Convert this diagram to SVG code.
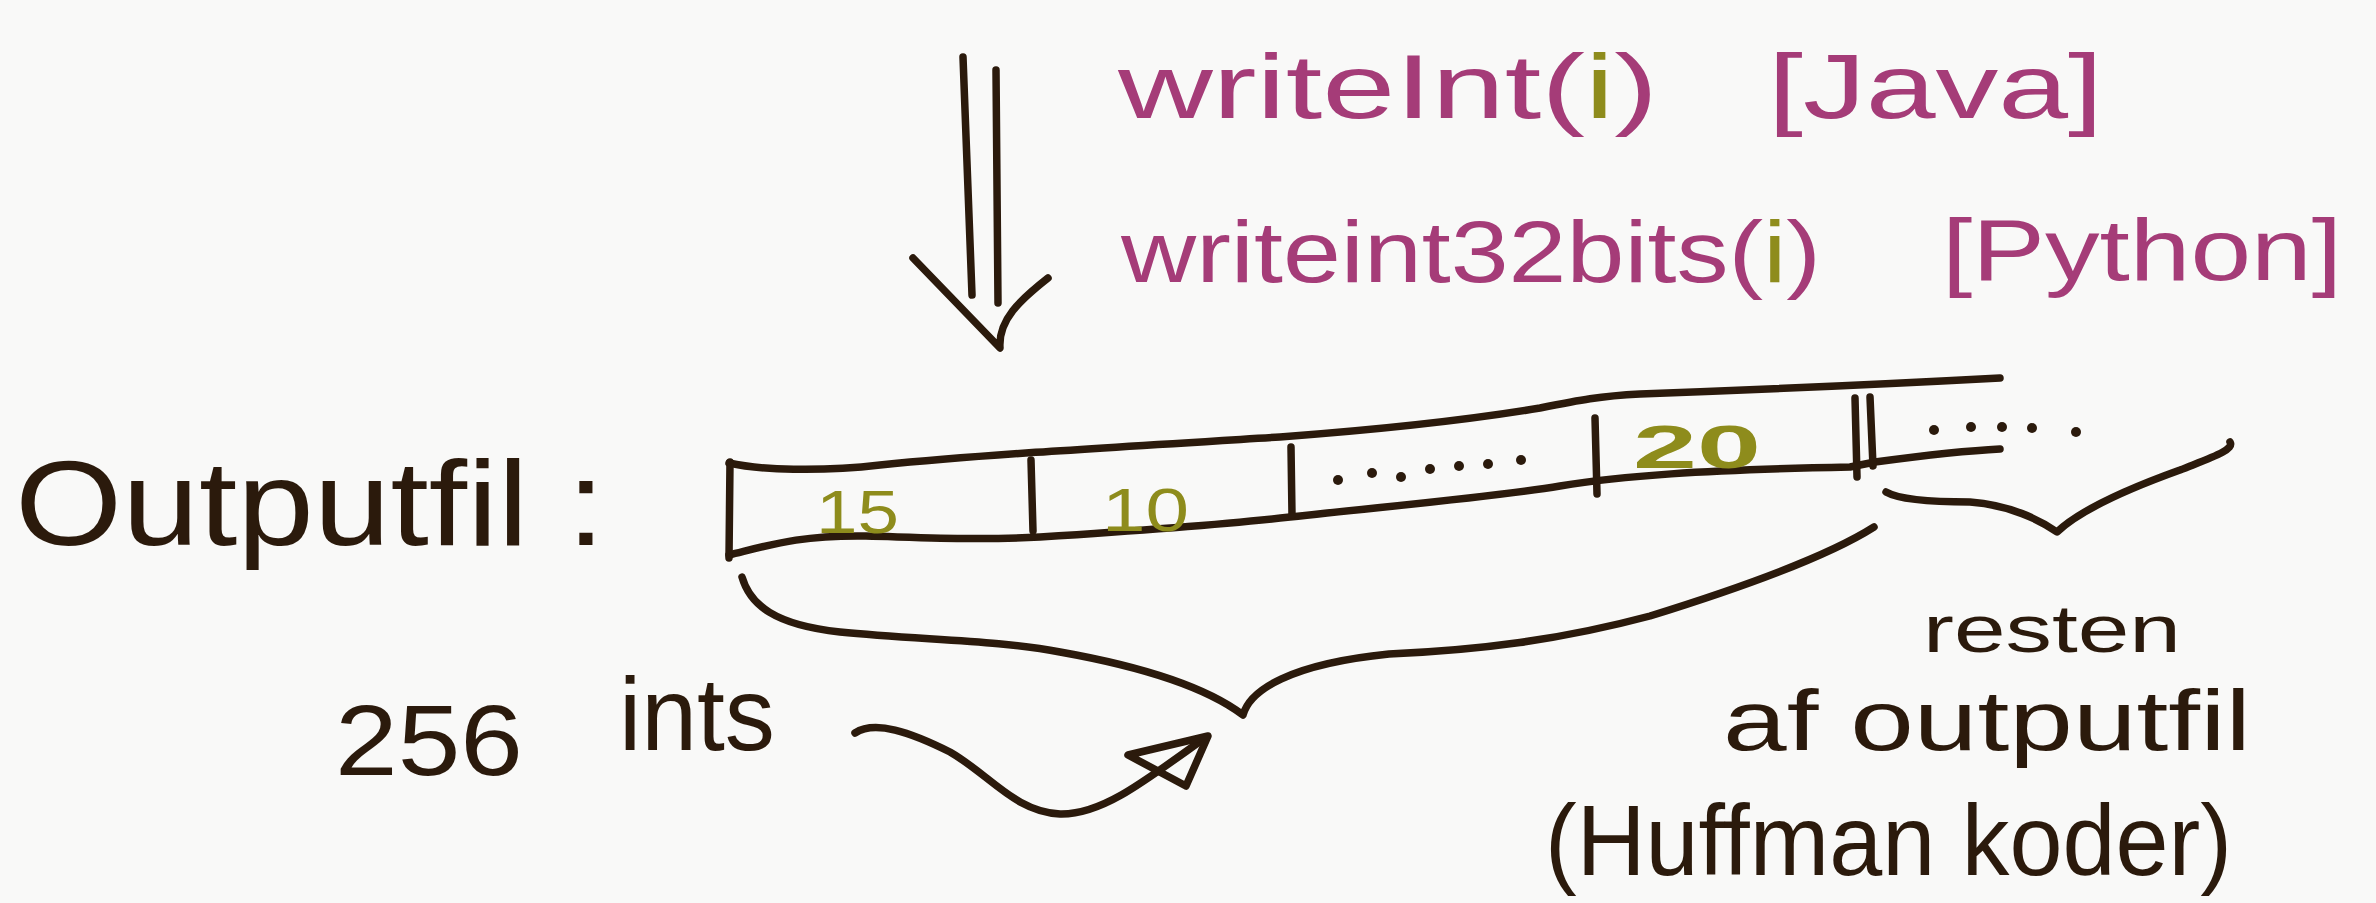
<svg xmlns="http://www.w3.org/2000/svg" width="2376" height="903" viewBox="0 0 2376 903">
<style>
.ink{fill:none;stroke:#2b1a0c;stroke-width:7.5;stroke-linecap:round;stroke-linejoin:round}
.t{font-family:"Liberation Sans",Arial,sans-serif;fill:#2b1a0c}
.m{font-family:"Liberation Sans",Arial,sans-serif;fill:#a53c78}
.o{fill:#8e8c1c}
.dot{fill:#2b1a0c}
</style>
<rect width="2376" height="903" fill="#f9f9f8"/>

<g id="code-labels">
  <text class="m" x="1118" y="118" font-size="90" textLength="540" lengthAdjust="spacingAndGlyphs">writeInt(<tspan class="o">i</tspan>)</text>
  <text class="m" x="1768" y="118" font-size="90" textLength="335" lengthAdjust="spacingAndGlyphs">[Java]</text>
  <text class="m" x="1121" y="282" font-size="88" textLength="700" lengthAdjust="spacingAndGlyphs">writeint32bits(<tspan class="o">i</tspan>)</text>
  <text class="m" x="1942" y="280" font-size="88" textLength="400" lengthAdjust="spacingAndGlyphs">[Python]</text>
</g>

<g id="outputfil-label">
  <text class="t" x="15" y="545" font-size="120" textLength="590" lengthAdjust="spacingAndGlyphs">Outputfil :</text>
</g>

<g id="tape">
  <path class="ink" d="M729,463 C760,470 820,472 880,465 C980,455 1100,448 1280,437 C1400,428 1480,418 1540,408 C1580,400 1600,396 1640,394 C1750,390 1850,386 2000,378"/>
  <path class="ink" d="M729,555 C770,545 800,535 866,536 C940,538 980,540 1040,537 C1150,530 1220,525 1290,517 C1400,505 1500,496 1560,486 C1620,476 1700,470 1850,467 L1875,462 C1920,456 1960,451 2000,449"/>
  <path class="ink" d="M730,462 L729,558"/>
  <path class="ink" d="M1031,460 L1033,531"/>
  <path class="ink" d="M1291,447 L1292,515"/>
  <path class="ink" d="M1595,418 L1597,494"/>
  <path class="ink" d="M1855,398 L1857,477"/>
  <path class="ink" d="M1870,397 L1873,466"/>
  <text class="t o" x="816" y="533" font-size="62" textLength="83" lengthAdjust="spacingAndGlyphs">15</text>
  <text class="t o" x="1102" y="531" font-size="62" textLength="87" lengthAdjust="spacingAndGlyphs">10</text>
  <text class="t o" x="1633" y="468" font-size="62" font-weight="bold" textLength="128" lengthAdjust="spacingAndGlyphs">20</text>
  <g class="dot">
    <circle cx="1338" cy="480" r="5"/><circle cx="1372" cy="473" r="5"/><circle cx="1401" cy="477" r="5"/>
    <circle cx="1430" cy="469" r="5"/><circle cx="1459" cy="466" r="5"/><circle cx="1488" cy="464" r="5"/>
    <circle cx="1521" cy="460" r="5"/>
    <circle cx="1934" cy="430" r="5"/><circle cx="1971" cy="427" r="5"/><circle cx="2002" cy="427" r="5"/>
    <circle cx="2032" cy="428" r="5"/><circle cx="2076" cy="432" r="5"/>
  </g>
</g>

<g id="connectors">
  <path class="ink" d="M963,57 L972,295"/>
  <path class="ink" d="M996,70 L998,303"/>
  <path class="ink" d="M913,258 L1000,348 C998,320 1020,300 1048,278"/>
  <path class="ink" d="M742,577 C750,605 775,625 840,632 C920,640 1000,640 1060,652 C1150,668 1210,690 1243,715 C1250,690 1290,664 1389,654 C1480,650 1560,640 1650,616 C1750,585 1830,555 1874,527"/>
  <path class="ink" d="M1886,492 C1900,500 1940,502 1970,502 C2010,505 2040,520 2057,532 C2080,510 2130,488 2180,470 C2210,458 2235,450 2230,442"/>
  <path class="ink" d="M855,733 C875,720 910,732 950,752 C990,775 1015,812 1060,814 C1100,815 1140,785 1206,737"/>
  <path class="ink" d="M1128,755 L1208,736 L1186,786 Z"/>
</g>

<g id="count-label">
  <text class="t" font-size="100"><tspan x="335" y="775" textLength="188" lengthAdjust="spacingAndGlyphs">256</tspan><tspan x="619" y="750" font-size="104" textLength="156" lengthAdjust="spacingAndGlyphs">ints</tspan></text>
</g>

<g id="rest-label">
  <text class="t" x="1923" y="652" font-size="66" textLength="258" lengthAdjust="spacingAndGlyphs">resten</text>
  <text class="t" x="1723" y="750" font-size="86" textLength="528" lengthAdjust="spacingAndGlyphs">af outputfil</text>
  <text class="t" x="1545" y="875" font-size="100" textLength="687" lengthAdjust="spacingAndGlyphs">(Huffman koder)</text>
</g>
</svg>
